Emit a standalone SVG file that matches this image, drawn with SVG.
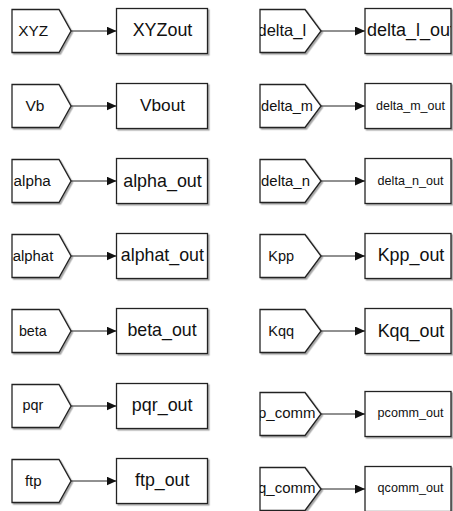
<svg xmlns="http://www.w3.org/2000/svg" width="453" height="511" viewBox="0 0 453 511">
<style>
.tag{fill:#fff;stroke:#222;stroke-width:1.3;filter:url(#sh)}
.box{fill:#fff;stroke:#222;stroke-width:1.3;filter:url(#sh)}
.t{font-family:"Liberation Sans",Arial,sans-serif;fill:#111}
.m{text-anchor:middle}
.wire{stroke:#222;stroke-width:1;fill:none;marker-end:url(#ah)}
</style>
<defs>
<filter id="sh" x="-10%" y="-10%" width="130%" height="130%">
<feDropShadow dx="1.5" dy="1.5" stdDeviation="0.7" flood-color="#000" flood-opacity="0.35"/>
</filter>
<marker id="ah" markerUnits="userSpaceOnUse" markerWidth="10" markerHeight="9" refX="10" refY="4.5" orient="auto">
<path d="M0,0 L10,4.5 L0,9 Z" fill="#111"/>
</marker>
<clipPath id="cTagR"><rect x="260" y="0" width="70" height="511"/></clipPath>
<clipPath id="cBoxR"><rect x="365" y="0" width="86" height="511"/></clipPath>
</defs>
<rect width="453" height="511" fill="#fff"/>

<g id="connectors">
<path class="wire" d="M71,31 H116.5"/>
<path class="wire" d="M71,106 H116.5"/>
<path class="wire" d="M71,181 H116.5"/>
<path class="wire" d="M71,256 H116.5"/>
<path class="wire" d="M71,331 H116.5"/>
<path class="wire" d="M71,406 H116.5"/>
<path class="wire" d="M71,481 H116.5"/>
<path class="wire" d="M321,31 H365"/>
<path class="wire" d="M321,106 H365"/>
<path class="wire" d="M321,181 H365"/>
<path class="wire" d="M321,256 H365"/>
<path class="wire" d="M321,331 H365"/>
<path class="wire" d="M321,414 H365"/>
<path class="wire" d="M321,489 H365"/>
</g>

<g id="tag_XYZ"><polygon class="tag" points="12,9.5 59,9.5 71,31 59,52.5 12,52.5"/><text class="t m" x="33.3" y="36" font-size="15.4">XYZ</text></g>
<g id="out_XYZout"><rect class="box" x="116.5" y="8.5" width="91" height="45"/><text class="t m" x="162.5" y="36" font-size="17.9">XYZout</text></g>

<g id="tag_Vb"><polygon class="tag" points="12,84.5 59,84.5 71,106 59,127.5 12,127.5"/><text class="t m" x="35" y="110.5" font-size="15.5">Vb</text></g>
<g id="out_Vbout"><rect class="box" x="116.5" y="83.5" width="91" height="45"/><text class="t m" x="162.5" y="111" font-size="17.3">Vbout</text></g>

<g id="tag_alpha"><polygon class="tag" points="12,159.5 59,159.5 71,181 59,202.5 12,202.5"/><text class="t m" x="32.2" y="185.5" font-size="15.2">alpha</text></g>
<g id="out_alpha_out"><rect class="box" x="116.5" y="158.5" width="91" height="45"/><text class="t m" x="162.5" y="186.5" font-size="17.9">alpha_out</text></g>

<g id="tag_alphat"><polygon class="tag" points="12,234.5 59,234.5 71,256 59,277.5 12,277.5"/><text class="t m" x="33" y="260.5" font-size="14.9">alphat</text></g>
<g id="out_alphat_out"><rect class="box" x="116.5" y="233.5" width="91" height="45"/><text class="t m" x="162.4" y="261" font-size="17.8">alphat_out</text></g>

<g id="tag_beta"><polygon class="tag" points="12,309.5 59,309.5 71,331 59,352.5 12,352.5"/><text class="t m" x="32.8" y="335.5" font-size="14.3">beta</text></g>
<g id="out_beta_out"><rect class="box" x="116.5" y="308.5" width="91" height="45"/><text class="t m" x="162" y="336" font-size="17.8">beta_out</text></g>

<g id="tag_pqr"><polygon class="tag" points="12,384.5 59,384.5 71,406 59,427.5 12,427.5"/><text class="t m" x="33" y="409.5" font-size="14.4">pqr</text></g>
<g id="out_pqr_out"><rect class="box" x="116.5" y="383.5" width="91" height="45"/><text class="t m" x="162.2" y="411" font-size="17.9">pqr_out</text></g>

<g id="tag_ftp"><polygon class="tag" points="12,459.5 59,459.5 71,481 59,502.5 12,502.5"/><text class="t m" x="33.3" y="485.5" font-size="15">ftp</text></g>
<g id="out_ftp_out"><rect class="box" x="116.5" y="458.5" width="91" height="45"/><text class="t m" x="162.2" y="486" font-size="17.8">ftp_out</text></g>

<g id="tag_delta_l"><polygon class="tag" points="260,9.5 305,9.5 321,31 305,52.5 260,52.5"/><text class="t" x="257.5" y="36" font-size="16.5" clip-path="url(#cTagR)">delta_l</text></g>
<g id="out_delta_l_out"><rect class="box" x="365" y="8.5" width="86" height="45"/><text class="t" x="367" y="36" font-size="18" clip-path="url(#cBoxR)">delta_l_out</text></g>

<g id="tag_delta_m"><polygon class="tag" points="260,84.5 305,84.5 321,106 305,127.5 260,127.5"/><text class="t m" x="287" y="110.5" font-size="14.6">delta_m</text></g>
<g id="out_delta_m_out"><rect class="box" x="365" y="83.5" width="86" height="45"/><text class="t m" x="410.5" y="109.5" font-size="12.5">delta_m_out</text></g>

<g id="tag_delta_n"><polygon class="tag" points="260,159.5 305,159.5 321,181 305,202.5 260,202.5"/><text class="t m" x="285.5" y="185.5" font-size="14.9">delta_n</text></g>
<g id="out_delta_n_out"><rect class="box" x="365" y="158.5" width="86" height="45"/><text class="t m" x="410.5" y="184.5" font-size="12.6">delta_n_out</text></g>

<g id="tag_Kpp"><polygon class="tag" points="260,234.5 305,234.5 321,256 305,277.5 260,277.5"/><text class="t m" x="281.2" y="260.5" font-size="14.5">Kpp</text></g>
<g id="out_Kpp_out"><rect class="box" x="365" y="233.5" width="86" height="45"/><text class="t m" x="411" y="261" font-size="17.9">Kpp_out</text></g>

<g id="tag_Kqq"><polygon class="tag" points="260,309.5 305,309.5 321,331 305,352.5 260,352.5"/><text class="t m" x="281.2" y="336" font-size="14.5">Kqq</text></g>
<g id="out_Kqq_out"><rect class="box" x="365" y="308.5" width="86" height="45"/><text class="t m" x="411" y="337" font-size="17.9">Kqq_out</text></g>

<g id="tag_p_comm"><polygon class="tag" points="260,392.5 305,392.5 321,414 305,435.5 260,435.5"/><text class="t" x="258" y="418" font-size="15" clip-path="url(#cTagR)">p_comm</text></g>
<g id="out_pcomm_out"><rect class="box" x="365" y="391.5" width="86" height="45"/><text class="t m" x="410.5" y="417" font-size="12.6">pcomm_out</text></g>

<g id="tag_q_comm"><polygon class="tag" points="260,467.5 305,467.5 321,489 305,510.5 260,510.5"/><text class="t" x="258" y="493" font-size="15" clip-path="url(#cTagR)">q_comm</text></g>
<g id="out_qcomm_out"><rect class="box" x="365" y="466.5" width="86" height="45"/><text class="t m" x="410.5" y="492" font-size="12.6">qcomm_out</text></g>
</svg>
